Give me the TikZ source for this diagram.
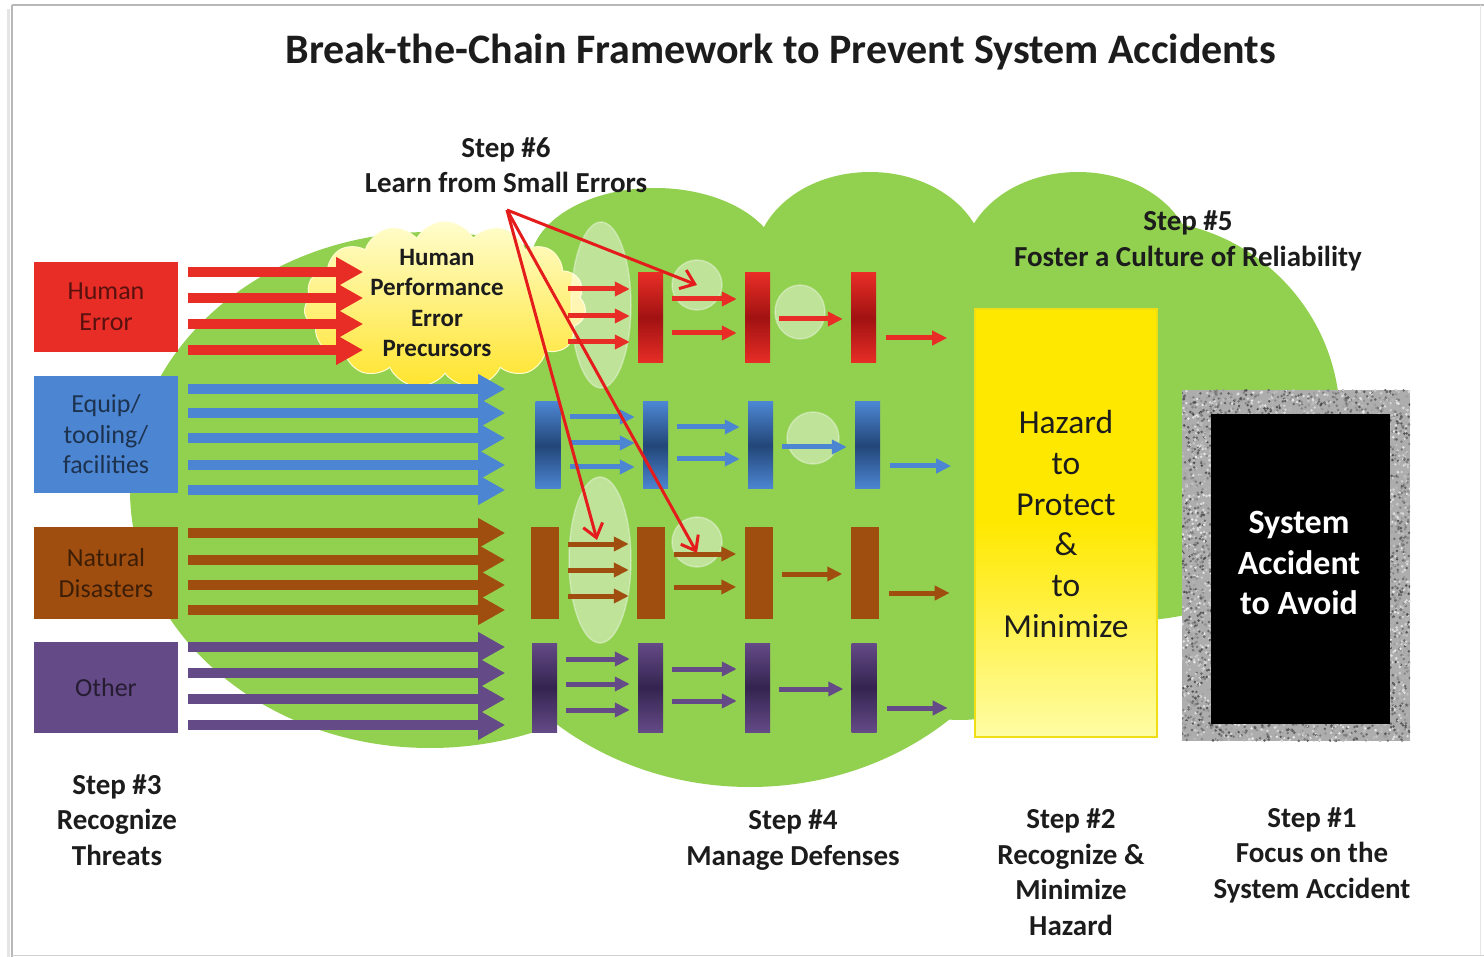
\documentclass[tikz,border=0pt]{standalone}
\usepackage{fontspec}
\setmainfont{Carlito}
\usetikzlibrary{shapes.geometric,shapes.symbols,arrows.meta,calc}
\definecolor{cgreen}{RGB}{146,208,80}
\definecolor{cred}{RGB}{232,45,38}
\definecolor{credd}{RGB}{160,18,18}
\definecolor{cblue}{RGB}{76,134,210}
\definecolor{cbluedd}{RGB}{35,70,120}
\definecolor{cbrown}{RGB}{160,78,16}
\definecolor{cpurple}{RGB}{100,74,134}
\definecolor{cpurpledd}{RGB}{52,36,80}
\definecolor{cptr}{RGB}{228,28,28}
\definecolor{cyel}{RGB}{255,232,0}
\definecolor{cyelbd}{RGB}{240,222,20}
\definecolor{cyelpale}{RGB}{255,253,165}
\definecolor{ccloudtop}{RGB}{255,253,205}
\definecolor{ccloudbot}{RGB}{255,228,45}
\definecolor{ctext}{RGB}{28,28,28}
\tikzset{
  threat/.style={rectangle, minimum width=144pt, inner sep=0pt, fill=#1},
  threattext/.style={align=center, text=black, text opacity=0.62, font=\fontsize{26}{30.5}\selectfont},
  bigarr/.style={draw=#1, line width=10pt, -{Triangle[length=27pt,width=28pt]}},
  smarr/.style={draw=#1, line width=5pt, -{Triangle[length=15pt,width=14pt]}},
  defbar/.style={rectangle, minimum width=25pt, minimum height=89pt, inner sep=0pt},
  shbar/.style 2 args={defbar, top color=#1, bottom color=#1, middle color=#2},
  halo/.style={ellipse, fill=white, fill opacity=0.42, draw=white, draw opacity=0.35, line width=1.5pt, inner sep=0pt},
  steplabel/.style={align=center, text=ctext, font=\bfseries\fontsize{29}{35.5}\selectfont},
  ptr/.style={draw=cptr, line width=3pt, -{Straight Barb[length=13pt,width=20pt]}}
}
\newcommand\gaparr[4]{\foreach \o in {#4}{\draw[smarr=#1] ($(#2.east)+(9,\o)$) -- ($(#3.west)+(-8,\o)$);}}
\newcommand\exitarr[3]{\draw[smarr=#1] ($(#2.east)+(10,#3)$) -- ($(#2.east)+(71,#3)$);}
\newcommand\noisestrip[5]{%
  \foreach \i in {1,...,#5}{%
    \pgfmathsetmacro\nx{#1+#3*rnd}%
    \pgfmathsetmacro\ny{#2+#4*rnd}%
    \pgfmathtruncatemacro\ng{8+62*rnd}%
    \fill[black!\ng!white] (\nx,\ny) circle [radius=1.4pt];
  }}
\begin{document}
\begin{tikzpicture}[x=1pt,y=-1pt]
\useasboundingbox (0,0) rectangle (1484,957);
\fill[white] (0,0) rectangle (1484,957);
% page frame
\draw[black!10, line width=3pt] (8,9) -- (8,957);
\draw[black!28, line width=1.2pt] (12,5) -- (1484,5);
\draw[black!28, line width=1.2pt] (12,5) -- (12,957);
\draw[black!18, line width=1pt] (12,955) -- (1484,955);
\draw[black!10, line width=1pt] (1480,5) -- (1480,955);

% title
\node[font=\bfseries\fontsize{42}{50}\selectfont, text=ctext] (title) at (781,52) {Break-the-Chain Framework to Prevent System Accidents};

% green culture cloud
\fill[cgreen] (430,490) ellipse [x radius=300pt, y radius=258pt];
\fill[cgreen] (750,520) ellipse [x radius=300pt, y radius=267pt];
\fill[cgreen] (960,560) ellipse [x radius=150pt, y radius=160pt];
\fill[cgreen] (655,265) ellipse [x radius=125pt, y radius=77pt];
\fill[cgreen] (870,262) ellipse [x radius=115pt, y radius=90pt];
\fill[cgreen] (1078,262) ellipse [x radius=115pt, y radius=90pt];
\fill[cgreen] (1140,420) circle [radius=200pt];
\fill[cgreen] (430,260) rectangle (1150,650);

% yellow precursor cloud
\node[cloud, cloud puffs=15, cloud puff arc=120, aspect=1.7, cloud ignores aspect,
      minimum width=282pt, minimum height=166pt, inner sep=0pt,
      top color=ccloudtop, bottom color=ccloudbot, draw=ccloudtop, line width=1pt] (hpc) at (445,305) {};

% light halos
\node[halo, minimum width=60pt, minimum height=166pt] (e1) at (601,305) {};
\node[halo, minimum width=62pt, minimum height=166pt] (e2) at (600,560) {};
\node[halo, minimum width=50pt, minimum height=50pt] (c1) at (697,285) {};
\node[halo, minimum width=50pt, minimum height=54pt] (c2) at (800,312) {};
\node[halo, minimum width=52pt, minimum height=52pt] (c3) at (813,438) {};
\node[halo, minimum width=50pt, minimum height=50pt] (c4) at (697,542) {};

% threat boxes
\node[threat=cred, minimum height=90pt] (he) at (106,307) {};
\node[threattext] at (he.center) {Human\\Error};
\node[threat=cblue, minimum height=117pt] (eq) at (106,434.5) {};
\node[threattext] at (eq.center) {Equip/\\tooling/\\facilities};
\node[threat=cbrown, minimum height=92pt] (nd) at (106,573) {};
\node[threattext] at (nd.center) {Natural\\Disasters};
\node[threat=cpurple, minimum height=91pt] (ot) at (106,687.5) {};
\node[threattext] at (ot.center) {Other};

% big threat arrows
\foreach \o in {-35,-9,17,43}{\draw[bigarr=cred] ($(he.east)+(10,\o)$) -- ($(he.east)+(185,\o)$);}
\foreach \o in {-45.5,-21.5,3.5,30.5,55.5}{\draw[bigarr=cblue] ($(eq.east)+(10,\o)$) -- ($(eq.east)+(327,\o)$);}
\foreach \o in {-40,-13,12,37}{\draw[bigarr=cbrown] ($(nd.east)+(10,\o)$) -- ($(nd.east)+(327,\o)$);}
\foreach \o in {-40.5,-14.5,11.5,37.5}{\draw[bigarr=cpurple] ($(ot.east)+(10,\o)$) -- ($(ot.east)+(327,\o)$);}

\node[align=center, text=ctext, font=\bfseries\fontsize{25}{30.3}\selectfont] (hpt) at (437,303) {Human\\Performance\\Error\\Precursors};

% defense bars
\node[shbar={cred}{credd}, minimum height=90pt] (r1) at (650.5,318) {};
\node[shbar={cred}{credd}, minimum height=90pt] (r2) at (757.5,318) {};
\node[shbar={cred}{credd}, minimum height=90pt] (r3) at (863.5,318) {};
\node[shbar={cblue}{cbluedd}, minimum height=87pt] (b0) at (548,445.5) {};
\node[shbar={cblue}{cbluedd}, minimum height=87pt] (b1) at (655.5,445.5) {};
\node[shbar={cblue}{cbluedd}, minimum height=87pt] (b2) at (760.5,445.5) {};
\node[shbar={cblue}{cbluedd}, minimum height=87pt] (b3) at (867.5,445.5) {};
\node[defbar, minimum width=28pt, minimum height=92pt, fill=cbrown] (n0) at (545,573) {};
\node[defbar, minimum width=28pt, minimum height=92pt, fill=cbrown] (n1) at (651,573) {};
\node[defbar, minimum width=28pt, minimum height=92pt, fill=cbrown] (n2) at (758.5,573) {};
\node[defbar, minimum width=28pt, minimum height=92pt, fill=cbrown] (n3) at (864.5,573) {};
\node[shbar={cpurple}{cpurpledd}, minimum height=89pt] (p0) at (544.5,687.5) {};
\node[shbar={cpurple}{cpurpledd}, minimum height=89pt] (p1) at (650.5,687.5) {};
\node[shbar={cpurple}{cpurpledd}, minimum height=89pt] (p2) at (757.5,687.5) {};
\node[shbar={cpurple}{cpurpledd}, minimum height=89pt] (p3) at (864,687.5) {};

% small arrows
\foreach \o in {-29,-2,24}{\draw[smarr=cred] ($(r1.west)+(-70,\o)$) -- ($(r1.west)+(-8,\o)$);}
\gaparr{cred}{r1}{r2}{-19,15}
\gaparr{cred}{r2}{r3}{1}
\exitarr{cred}{r3}{20}
\gaparr{cblue}{b0}{b1}{-28.5,-2.5,21.5}
\gaparr{cblue}{b1}{b2}{-18.5,13.5}
\gaparr{cblue}{b2}{b3}{1.5}
\exitarr{cblue}{b3}{20.5}
\gaparr{cbrown}{n0}{n1}{-29,-3,23}
\gaparr{cbrown}{n1}{n2}{-19,14}
\gaparr{cbrown}{n2}{n3}{1}
\exitarr{cbrown}{n3}{20}
\gaparr{cpurple}{p0}{p1}{-28.5,-3.5,22.5}
\gaparr{cpurple}{p1}{p2}{-18.5,13.5}
\gaparr{cpurple}{p2}{p3}{1.5}
\exitarr{cpurple}{p3}{20.5}

% hazard box
\node[draw=cyelbd, line width=2pt, minimum width=182pt, minimum height=428pt, inner sep=0pt,
      top color=cyel, bottom color=cyelpale, middle color=cyel] (hz) at (1066,523) {};
\node[align=center, text=ctext, font=\fontsize{33.5}{40.8}\selectfont] (hzt) at (1066,524) {Hazard\\to\\Protect\\\&\\to\\Minimize};

% system accident box
\node[fill=black!32, minimum width=228pt, minimum height=351pt, inner sep=0pt] (saf) at (1296,565.5) {};
\begin{scope}
\clip (1182,390) rectangle (1410,741);
\pgfmathsetseed{7}
\noisestrip{1182}{390}{228}{25}{480}
\noisestrip{1182}{723}{228}{18}{350}
\noisestrip{1182}{414}{30}{310}{800}
\noisestrip{1389}{414}{21}{310}{560}
\end{scope}
\node[fill=black, minimum width=179pt, minimum height=310pt, inner sep=0pt] (sab) at (1300.5,569) {};
\node[align=center, text=white, font=\bfseries\fontsize{34}{40.5}\selectfont] (sat) at (1299,563) {System\\Accident\\to Avoid};

% step labels
\node[steplabel] (s6t) at (506,165) {Step \#6\\Learn from Small Errors};
\node[steplabel] (s5t) at (1188,241) {Step \#5\\Foster a Culture of Reliability};
\node[steplabel] (s3t) at (117,820) {Step \#3\\Recognize\\Threats};
\node[steplabel] (s4t) at (793,840) {Step \#4\\Manage Defenses};
\node[steplabel] (s2t) at (1071,872) {Step \#2\\Recognize \&\\Minimize\\Hazard};
\node[steplabel] (s1t) at (1312,855) {Step \#1\\Focus on the\\System Accident};

% learning pointers
\coordinate (s6) at (507,210);
\draw[ptr] (s6) -- (c1.center);
\draw[ptr] (s6) -- ($(e2.center)+(-3,-20)$);
\draw[ptr] (s6) -- ($(c4.center)+(0,11)$);
\end{tikzpicture}
\end{document}
